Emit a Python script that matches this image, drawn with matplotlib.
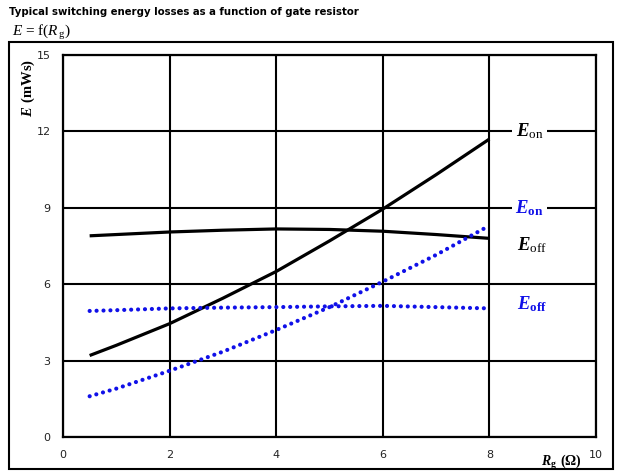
import matplotlib
matplotlib.use("Agg")
import matplotlib.pyplot as plt
from matplotlib.patches import Rectangle

plt.rcParams['mathtext.fontset'] = 'custom'
plt.rcParams['mathtext.rm'] = 'Liberation Serif'
plt.rcParams['mathtext.it'] = 'Liberation Serif:italic'
plt.rcParams['mathtext.bf'] = 'Liberation Serif:bold'
plt.rcParams['mathtext.bfit'] = 'Liberation Serif:bold:italic'

# Gate resistance (Ohm)
rg = [0.5, 1.0, 2.0, 3.0, 4.0, 5.0, 6.0, 7.0, 8.0]
# Switching energies (mWs)
eon_black = [3.2, 3.6, 4.45, 5.45, 6.5, 7.7, 8.95, 10.3, 11.7]
eoff_black = [7.9, 7.95, 8.05, 8.12, 8.17, 8.15, 8.08, 7.95, 7.8]
eon_blue = [1.6, 1.9, 2.6, 3.35, 4.2, 5.1, 6.1, 7.15, 8.3]
eoff_blue = [4.95, 4.98, 5.05, 5.08, 5.1, 5.13, 5.15, 5.1, 5.05]

xticks = [0, 2, 4, 6, 8, 10]
yticks = [0, 3, 6, 9, 12, 15]

blue = '#1010e8'
dots = (0, (0.01, 1.65))

fig = plt.figure(figsize=(6.22, 4.76), dpi=100)
ax = fig.add_axes([63/622, 39/476, 533/622, 382/476])

ax.plot(rg, eon_black, color='black', lw=2.3, solid_capstyle='butt', zorder=3)
ax.plot(rg, eoff_black, color='black', lw=2.3, solid_capstyle='butt', zorder=3)
ax.plot(rg, eon_blue, color=blue, lw=3.0, linestyle=dots,
        dash_capstyle='round', zorder=3)
ax.plot(rg, eoff_blue, color=blue, lw=3.0, linestyle=dots,
        dash_capstyle='round', zorder=3)

ax.set_xlim(0, 10)
ax.set_ylim(0, 15)
ax.set_xticks(xticks)
ax.set_yticks(yticks)
ax.set_xticklabels([str(v) for v in xticks], fontsize=8, color='#222222',
                   family='DejaVu Sans')
ax.set_yticklabels([str(v) for v in yticks], fontsize=8, color='#222222',
                   family='DejaVu Sans')
ax.tick_params(length=0, pad=9)
ax.grid(True, color='black', lw=1.5)
ax.set_axisbelow(True)
for s in ax.spines.values():
    s.set_linewidth(1.6)

box = dict(facecolor='white', edgecolor='none', pad=2.5)
ax.text(8.75, 12.0, r'$\mathbfit{E}_{\mathrm{on}}$', fontsize=13.5, color='black',
        ha='center', va='center', bbox=box, zorder=4)
ax.text(8.75, 9.0, r'$\mathbfit{E}_{\mathbf{on}}$', fontsize=13.5, color=blue,
        ha='center', va='center', bbox=box, zorder=4)
ax.text(8.8, 7.55, r'$\mathbfit{E}_{\mathrm{off}}$', fontsize=13.5, color='black',
        ha='center', va='center', zorder=4)
ax.text(8.8, 5.2, r'$\mathbfit{E}_{\mathbf{off}}$', fontsize=13.5, color=blue,
        ha='center', va='center', zorder=4)

# Axis titles
fig.text(28/622, 1 - 88/476, r'$\mathbfit{E}$ $\mathbf{(mWs)}$', rotation=90,
         fontsize=10.5, ha='center', va='center')
fig.text(561/622, 1 - 462/476, r'$\mathbfit{R}_{\mathbf{g}}$ $\mathbf{(\Omega)}$',
         fontsize=10, ha='center', va='center')

# Headings
fig.text(9/622, 1 - 12/476, 'Typical switching energy losses as a function of gate resistor',
         fontsize=7.3, fontweight='bold', family='DejaVu Sans', ha='left', va='center')
fig.text(12/622, 1 - 33/476, r'$E$ = f($R_{\,\mathrm{g}}$)', fontsize=11,
         family='Liberation Serif', ha='left', va='center')

# Frame around the plot area
fig.patches.append(Rectangle((9/622, 7/476), 604/622, 427/476, transform=fig.transFigure,
                             fill=False, edgecolor='black', lw=1.5))

fig.savefig('out.png', dpi=100)
